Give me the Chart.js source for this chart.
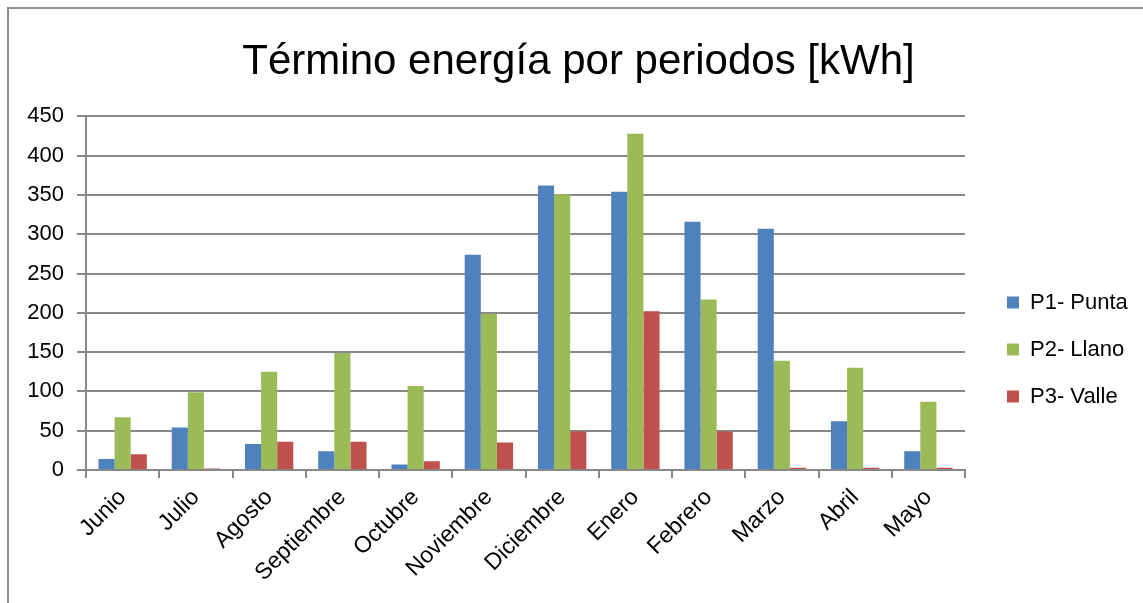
<!DOCTYPE html>
<html>
<head>
<meta charset="utf-8">
<script src="https://cdn.jsdelivr.net/npm/chart.js@4.4.1/dist/chart.umd.min.js"></script>
<style>
  body { margin: 0; background: #fff; overflow: hidden; }
  #marco { position: absolute; left: 7px; top: 7px; width: 1300px; height: 800px; border: 2px solid #8c8c8c; }
  #caja { position: absolute; left: 0; top: 0; width: 1143px; height: 603px; }
</style>
</head>
<body>
<div id="marco"></div>
<div id="caja"><canvas id="grafica"></canvas></div>
<script>
const meses = ['Junio', 'Julio', 'Agosto', 'Septiembre', 'Octubre', 'Noviembre',
               'Diciembre', 'Enero', 'Febrero', 'Marzo', 'Abril', 'Mayo'];
const p1Punta = [14, 54, 33, 24, 7, 274, 362, 354, 316, 307, 62, 24];
const p2Llano = [67, 99, 125, 149, 107, 199, 351, 428, 217, 139, 130, 87];
const p3Valle = [20, 2, 36, 36, 11, 35, 49, 202, 49, 3, 3, 3];
const ejeY = { min: 0, max: 450, paso: 50 };

const gris = '#888888';
const fuente = "'Liberation Sans', Arial, sans-serif";

// la leyenda de Excel queda más ancha y más abajo que la de Chart.js
const ajusteLeyenda = { ancho: 178, dx: 17, dy: 48 };
const moverLeyenda = {
    id: 'moverLeyenda',
    beforeLayout(chart) {
        const l = chart.legend;
        if (!l || l._envuelta) return;
        const fitOriginal = l.fit;
        l.fit = function () { fitOriginal.call(this); this.width = ajusteLeyenda.ancho; };
        l._envuelta = true;
    },
    afterLayout(chart) {
        const l = chart.legend;
        if (!l) return;
        l.left += ajusteLeyenda.dx; l.right += ajusteLeyenda.dx;
        l.top += ajusteLeyenda.dy; l.bottom += ajusteLeyenda.dy;
    }
};

new Chart(document.getElementById('grafica'), {
    type: 'bar',
    data: {
        labels: meses,
        datasets: [
            { label: 'P1- Punta', data: p1Punta, backgroundColor: '#4f81bd' },
            { label: 'P2- Llano', data: p2Llano, backgroundColor: '#9bbb59' },
            { label: 'P3- Valle', data: p3Valle, backgroundColor: '#c0504d' }
        ]
    },
    options: {
        responsive: true,
        maintainAspectRatio: false,
        animation: false,
        datasets: { bar: { categoryPercentage: 0.66, barPercentage: 1.0 } },
        layout: { padding: { left: 14, right: 0, top: 0, bottom: 0 } },
        plugins: {
            title: {
                display: true,
                text: 'Término energía por periodos [kWh]',
                color: '#000',
                font: { family: fuente, size: 42, weight: 'normal' },
                padding: { top: 37, bottom: 29 }
            },
            legend: {
                position: 'right',
                labels: {
                    boxWidth: 12, boxHeight: 12, padding: 25,
                    color: '#000',
                    font: { family: fuente, size: 22 }
                }
            },
            tooltip: { enabled: false }
        },
        scales: {
            x: {
                grid: { offset: true, drawOnChartArea: false, drawTicks: true, tickLength: 8, color: gris, lineWidth: 2 },
                border: { color: gris, width: 2 },
                ticks: { color: '#000', font: { family: fuente, size: 23 }, minRotation: 45, maxRotation: 45, padding: 6 },
                afterFit(scale) { scale.height = 133; }
            },
            y: {
                min: ejeY.min, max: ejeY.max,
                grid: { color: gris, lineWidth: 2, tickLength: 9 },
                border: { color: gris, width: 2 },
                ticks: { stepSize: ejeY.paso, color: '#000', font: { family: fuente, size: 22 }, padding: 13 },
                afterFit(scale) { scale.width = 72; }
            }
        }
    },
    plugins: [moverLeyenda]
});
</script>
</body>
</html>
